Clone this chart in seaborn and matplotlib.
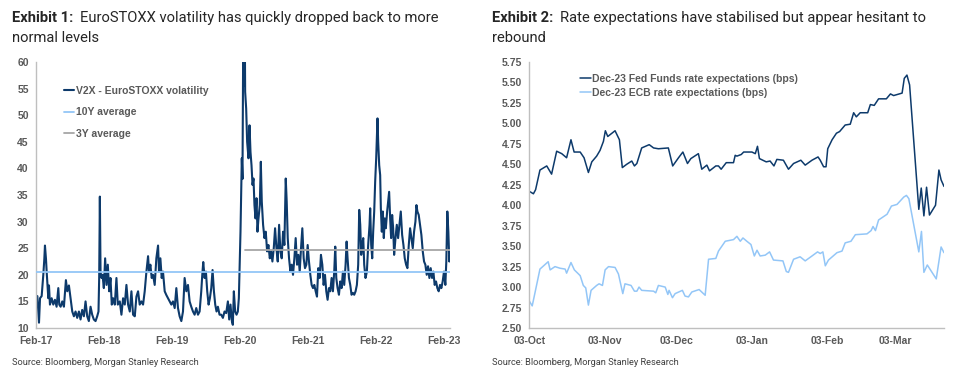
import numpy as np
import pandas as pd
import seaborn as sns
import matplotlib
matplotlib.use("Agg")
import matplotlib.pyplot as plt
import matplotlib.dates as mdates

# ---- Exhibit 1: V2X, months since Feb-2017 and index level ----
v2x_months = [
    0.00, 0.29, 0.58, 0.76, 1.05, 1.34, 1.52, 1.63, 1.81, 1.93, 2.22, 2.34, 2.51, 2.81, 3.10,
    3.39, 3.68, 3.98, 4.15, 4.39, 4.68, 4.97, 5.32, 5.56, 5.85, 6.14, 6.44, 6.73, 7.02, 7.31,
    7.61, 7.90, 8.19, 8.49, 8.78, 9.07, 9.36, 9.66, 9.95, 10.24, 10.54, 10.83, 11.06, 11.18, 11.30,
    11.42, 11.59, 11.77, 12.00, 12.23, 12.47, 12.70, 12.94, 13.17, 13.40, 13.64, 13.93, 14.22, 14.46, 14.81,
    15.10, 15.39, 15.69, 15.98, 16.27, 16.57, 16.86, 17.15, 17.45, 17.74, 18.03, 18.32, 18.62, 18.91, 19.20,
    19.50, 19.79, 19.96, 20.20, 20.43, 20.67, 20.96, 21.25, 21.55, 21.72, 21.96, 22.19, 22.42, 22.72, 23.01,
    23.30, 23.89, 24.18, 24.48, 24.77, 25.06, 25.35, 25.65, 25.94, 26.23, 26.53, 26.82, 27.11, 27.40, 27.70,
    27.99, 28.28, 28.58, 28.87, 29.16, 29.34, 29.51, 29.75, 29.98, 30.21, 30.45, 30.68, 30.92, 31.15, 31.39,
    31.62, 31.85, 32.09, 32.38, 32.68, 32.97, 33.26, 33.55, 33.85, 34.08, 34.31, 34.55, 34.72, 34.90, 35.13,
    35.37, 35.60, 35.78, 35.89, 36.07, 36.19, 36.30, 36.42, 36.54, 36.66, 36.78, 36.89, 37.07, 37.24, 37.48,
    37.66, 37.83, 38.01, 38.19, 38.36, 38.53, 38.71, 38.89, 39.06, 39.24, 39.47, 39.65, 39.82, 40.05, 40.29,
    40.52, 40.76, 40.99, 41.23, 41.46, 41.69, 41.93, 42.16, 42.40, 42.63, 42.87, 43.10, 43.33, 43.57, 43.80,
    44.04, 44.21, 44.39, 44.62, 44.86, 45.09, 45.32, 45.56, 45.79, 46.03, 46.26, 46.50, 46.73, 46.96, 47.20,
    47.43, 47.67, 47.90, 48.13, 48.37, 48.60, 48.84, 49.07, 49.31, 49.54, 49.77, 50.01, 50.24, 50.48, 50.71,
    50.95, 51.18, 51.41, 51.65, 51.88, 52.12, 52.35, 52.58, 52.76, 52.94, 53.17, 53.41, 53.64, 53.88, 54.11,
    54.34, 54.58, 54.76, 54.93, 55.17, 55.40, 55.63, 55.87, 56.10, 56.34, 56.57, 56.80, 56.98, 57.16, 57.33,
    57.51, 57.69, 57.86, 58.09, 58.33, 58.56, 58.80, 58.91, 59.09, 59.27, 59.44, 59.62, 59.79, 59.97, 60.09,
    60.20, 60.32, 60.50, 60.67, 60.79, 60.96, 61.14, 61.31, 61.49, 61.67, 61.90, 62.08, 62.25, 62.43, 62.60,
    62.78, 62.96, 63.13, 63.37, 63.60, 63.83, 64.07, 64.30, 64.54, 64.77, 65.00, 65.24, 65.47, 65.71, 65.94,
    66.18, 66.41, 66.64, 66.88, 67.06, 67.23, 67.46, 67.70, 67.93, 68.17, 68.40, 68.63, 68.87, 69.10, 69.34,
    69.57, 69.81, 70.04, 70.27, 70.51, 70.74, 70.98, 71.21, 71.45, 71.68, 71.91, 72.15, 72.32, 72.50, 72.68,
    72.85, 72.97,
]
v2x_level = [
    16.0, 16.0, 11.0, 15.6, 16.0, 20.0, 23.0, 25.5, 23.0, 20.6, 15.6, 18.0, 14.4, 15.6, 14.4,
    15.3, 14.0, 17.5, 14.4, 14.0, 15.0, 14.0, 19.0, 16.9, 18.0, 15.6, 13.1, 12.2, 13.1, 11.9,
    13.1, 11.6, 13.4, 12.2, 15.0, 12.2, 11.3, 14.0, 12.5, 11.6, 11.3, 12.2, 13.1, 19.4, 34.7,
    20.6, 19.4, 20.0, 17.5, 23.1, 18.1, 21.9, 16.9, 19.4, 14.4, 15.6, 14.4, 19.4, 14.4, 15.0,
    12.5, 15.6, 14.4, 18.1, 14.4, 13.1, 16.9, 12.5, 12.2, 15.9, 16.9, 14.4, 15.0, 14.4, 16.9,
    20.6, 23.5, 20.6, 21.9, 19.4, 20.0, 18.1, 23.1, 25.5, 20.6, 23.1, 19.4, 20.6, 16.9, 16.2,
    15.6, 14.4, 15.0, 13.75, 17.5, 13.75, 12.2, 11.3, 13.1, 19.4, 16.9, 18.1, 15.0, 14.0, 13.1,
    12.5, 13.75, 12.5, 13.1, 16.9, 20.0, 22.4, 19.4, 20.6, 16.9, 14.4, 15.6, 17.5, 20.9, 16.9,
    14.4, 13.1, 14.0, 12.5, 12.5, 11.9, 13.1, 12.8, 15.0, 11.6, 14.4, 11.3, 10.6, 16.9, 13.1,
    12.5, 13.1, 15.6, 20.6, 28.1, 35.6, 41.9, 38.0, 62.0, 55.6, 75.0, 54.4, 51.25, 45.0, 41.9,
    48.1, 43.1, 40.6, 36.9, 38.1, 33.1, 30.6, 34.4, 28.1, 30.6, 33.1, 41.25, 33.75, 29.4, 26.9,
    28.1, 24.4, 25.6, 23.1, 24.4, 22.5, 25.0, 28.75, 25.0, 22.5, 29.4, 24.4, 23.1, 28.1, 25.6,
    38.1, 33.75, 26.9, 23.1, 20.6, 21.9, 20.0, 23.1, 26.9, 21.9, 23.75, 20.6, 25.0, 28.75, 23.1,
    21.25, 21.9, 25.6, 22.5, 20.0, 18.1, 17.5, 18.1, 16.9, 15.9, 21.25, 19.4, 23.75, 21.9, 18.1,
    20.0, 16.9, 15.3, 17.5, 16.9, 19.4, 16.9, 20.6, 25.3, 19.4, 17.5, 16.25, 18.75, 17.5, 20.6,
    18.1, 21.9, 26.25, 23.1, 19.4, 18.1, 16.25, 16.6, 16.25, 16.9, 18.1, 21.9, 32.2, 29.4, 23.75,
    25.6, 26.9, 21.9, 19.4, 20.6, 25.6, 29.4, 32.5, 25.6, 23.1, 28.1, 31.9, 37.5, 41.9, 45.6,
    49.4, 45.0, 40.6, 38.75, 32.5, 28.1, 31.9, 26.9, 30.6, 28.75, 31.9, 33.75, 35.6, 30.6, 26.9,
    31.25, 28.75, 23.75, 26.9, 29.4, 26.9, 29.4, 31.9, 27.5, 25.6, 23.1, 21.9, 21.25, 25.6, 28.75,
    26.9, 25.0, 28.1, 30.0, 33.1, 31.9, 31.25, 29.4, 27.5, 24.4, 22.5, 21.9, 20.0, 21.6, 19.4,
    21.25, 19.4, 20.6, 18.1, 18.75, 17.5, 16.9, 18.1, 17.5, 18.75, 20.6, 18.1, 22.5, 31.9, 28.1,
    22.5, 23.75,
]
avg_10y = 20.6
avg_3y = 24.7
avg_3y_start_month = 36.9

# ---- Exhibit 2: Dec-23 rate expectations, days since 03-Oct-2022 ----
fed_days = [
    0.0, 1.7, 2.6, 4.4, 7.2, 9.2, 11.3, 13.4, 15.4, 17.2, 18.5, 21.0, 22.6, 24.4, 25.8,
    27.8, 29.2, 30.6, 31.4, 32.4, 35.4, 37.2, 38.4, 40.2, 42.3, 43.4, 44.4, 46.4, 49.5, 51.3,
    53.3, 57.4, 59.2, 61.6, 63.4, 65.3, 66.7, 69.8, 71.2, 73.3, 74.4, 77.0, 78.1, 79.2, 81.3,
    84.3, 85.0, 85.7, 87.5, 88.5, 91.9, 93.3, 94.2, 95.0, 97.8, 99.4, 101.0, 102.2, 104.9, 107.0,
    109.1, 112.1, 113.9, 116.7, 119.2, 120.1, 121.5, 122.5, 123.2, 125.0, 126.8, 128.1, 130.4, 132.5, 133.9,
    135.0, 136.6, 139.7, 140.8, 142.4, 144.2, 147.4, 149.1, 150.4, 153.9, 154.8, 155.9, 157.0, 160.8, 161.8,
    162.9, 164.0, 165.2, 167.7, 169.1, 170.0, 171.2,
]
fed_vals = [
    4.17, 4.14, 4.19, 4.43, 4.48, 4.38, 4.66, 4.63, 4.58, 4.80, 4.65, 4.65, 4.58, 4.40, 4.53,
    4.60, 4.67, 4.78, 4.91, 4.84, 4.91, 4.80, 4.46, 4.50, 4.54, 4.48, 4.51, 4.70, 4.74, 4.70,
    4.69, 4.70, 4.48, 4.58, 4.65, 4.51, 4.57, 4.63, 4.44, 4.49, 4.42, 4.48, 4.48, 4.44, 4.52,
    4.52, 4.61, 4.60, 4.62, 4.65, 4.65, 4.63, 4.72, 4.57, 4.53, 4.54, 4.48, 4.56, 4.55, 4.44,
    4.51, 4.55, 4.49, 4.55, 4.59, 4.55, 4.47, 4.47, 4.69, 4.80, 4.88, 4.90, 4.98, 4.99, 5.13,
    5.08, 5.13, 5.13, 5.23, 5.22, 5.30, 5.30, 5.36, 5.34, 5.37, 5.55, 5.59, 5.47, 3.95, 4.21,
    3.87, 4.22, 3.88, 4.00, 4.43, 4.31, 4.23,
]
ecb_days = [
    0.0, 1.2, 2.2, 4.4, 7.8, 8.6, 10.6, 12.7, 14.8, 15.4, 17.2, 18.6, 21.0, 22.3, 23.3,
    24.4, 25.5, 27.8, 28.8, 30.2, 31.3, 32.7, 35.4, 36.8, 38.6, 39.5, 42.0, 43.4, 44.4, 45.3,
    46.4, 51.3, 52.2, 53.3, 56.1, 57.2, 57.7, 59.1, 60.2, 63.2, 64.3, 65.7, 67.1, 70.1, 72.6,
    74.0, 77.0, 78.1, 80.9, 84.3, 85.7, 87.1, 88.2, 89.8, 91.5, 92.9, 94.0, 95.3, 97.4, 99.2,
    100.8, 104.7, 106.1, 107.0, 109.1, 111.8, 113.9, 116.7, 119.0, 120.1, 121.2, 122.2, 123.5, 127.0, 129.1,
    130.4, 132.8, 134.6, 139.4, 141.1, 141.9, 142.9, 144.2, 147.7, 149.5, 151.8, 154.6, 155.7, 156.7, 160.8,
    161.9, 162.9, 164.3, 168.0, 170.0, 171.2,
]
ecb_vals = [
    2.83, 2.77, 2.91, 3.22, 3.31, 3.21, 3.25, 3.23, 3.22, 3.17, 3.30, 3.21, 3.14, 3.02, 2.99,
    2.78, 2.96, 3.02, 3.04, 3.02, 3.21, 3.25, 3.24, 3.16, 2.92, 3.04, 3.02, 2.95, 2.95, 3.00,
    2.96, 2.95, 2.93, 3.02, 3.00, 2.91, 2.96, 2.87, 2.92, 2.96, 2.89, 2.88, 2.94, 2.97, 2.90,
    3.34, 3.35, 3.44, 3.56, 3.58, 3.62, 3.56, 3.60, 3.56, 3.52, 3.38, 3.45, 3.38, 3.39, 3.43,
    3.33, 3.32, 3.19, 3.18, 3.34, 3.37, 3.32, 3.38, 3.43, 3.41, 3.43, 3.26, 3.33, 3.42, 3.44,
    3.54, 3.56, 3.64, 3.65, 3.69, 3.74, 3.69, 3.82, 3.89, 3.99, 4.01, 4.10, 4.12, 4.08, 3.43,
    3.68, 3.18, 3.27, 3.10, 3.49, 3.42,
]

NAVY = "#0d3a6b"
LIGHT = "#93c6f7"
GREY = "#a6a6a6"
TXT = "#595959"

sns.set_style("white")
plt.rcParams["font.family"] = ["Liberation Sans", "DejaVu Sans"]

W, H = 957, 379
fig = plt.figure(figsize=(W / 100, H / 100), dpi=100)
ax1 = fig.add_axes([35.7 / W, 1 - 328 / H, 414.3 / W, 266 / H])
ax2 = fig.add_axes([529.3 / W, 1 - 328 / H, 414.7 / W, 266 / H])

# ---- left panel ----
t0 = pd.Timestamp("2017-02-01")
v2x = pd.DataFrame({
    "date": t0 + pd.to_timedelta(np.array(v2x_months) * 30.44, unit="D"),
    "level": v2x_level,
})
sns.lineplot(data=v2x, x="date", y="level", ax=ax1, color=NAVY, lw=1.5,
             label="V2X - EuroSTOXX volatility")
d_start, d_end = v2x["date"].iloc[0], v2x["date"].iloc[-1]
d3 = t0 + pd.to_timedelta(avg_3y_start_month * 30.44, unit="D")
ax1.plot([d_start, d_end], [avg_10y, avg_10y], color=LIGHT, lw=1.3, label="10Y average", zorder=4)
ax1.plot([d3, d_end], [avg_3y, avg_3y], color=GREY, lw=1.3, label="3Y average", zorder=4)
ax1.set_xlim(d_start, d_end)
ax1.set_ylim(10, 60)
ax1.set_yticks(range(10, 61, 5))
ax1.xaxis.set_major_locator(mdates.MonthLocator(bymonth=2, bymonthday=1))
ax1.xaxis.set_major_formatter(mdates.DateFormatter("%b-%y"))
ax1.legend(loc="upper left", bbox_to_anchor=(0.045, 0.945), frameon=False,
           handlelength=1.0, handletextpad=0.15, labelspacing=1.08,
           prop={"weight": "bold", "size": 7.5}, labelcolor=TXT)

# ---- right panel ----
r0 = pd.Timestamp("2022-10-03")
fed = pd.DataFrame({"date": r0 + pd.to_timedelta(fed_days, unit="D"), "v": fed_vals})
ecb = pd.DataFrame({"date": r0 + pd.to_timedelta(ecb_days, unit="D"), "v": ecb_vals})
sns.lineplot(data=fed, x="date", y="v", ax=ax2, color=NAVY, lw=1.1,
             label="Dec-23 Fed Funds rate expectations (bps)")
sns.lineplot(data=ecb, x="date", y="v", ax=ax2, color=LIGHT, lw=1.1,
             label="Dec-23 ECB rate expectations (bps)")
ax2.set_xlim(r0, fed["date"].iloc[-1])
ax2.set_ylim(2.5, 5.75)
ax2.set_yticks(np.arange(2.5, 5.76, 0.25))
ax2.yaxis.set_major_formatter(matplotlib.ticker.FormatStrFormatter("%.2f"))
ax2.xaxis.set_major_locator(mdates.MonthLocator(bymonthday=3))
ax2.xaxis.set_major_formatter(mdates.DateFormatter("%d-%b"))
ax2.legend(loc="upper left", bbox_to_anchor=(0.1, 0.99), frameon=False,
           handlelength=1.0, handletextpad=0.15, labelspacing=0.35,
           prop={"weight": "bold", "size": 7.5}, labelcolor=TXT)

for ax in (ax1, ax2):
    ax.set_xlabel("")
    ax.set_ylabel("")
    for s in ("top", "right"):
        ax.spines[s].set_visible(False)
    for s in ("left", "bottom"):
        ax.spines[s].set_color("#bfbfbf")
        ax.spines[s].set_linewidth(1.0)
    ax.tick_params(axis="both", length=3, width=0.8, color="#bfbfbf", labelcolor=TXT,
                   labelsize=7.5, pad=2)
    ax.tick_params(axis="x", pad=3)
    for lab in ax.get_xticklabels() + ax.get_yticklabels():
        lab.set_fontweight("bold")

# ---- titles & sources ----
renderer = fig.canvas.get_renderer()


def title(x_px, bold, rest, line2):
    t = fig.text(x_px / W, 1 - 22 / H, bold, fontsize=10.6, weight="bold",
                 family="Roboto", color="#262626", va="baseline")
    bb = t.get_window_extent(renderer)
    fig.text((bb.x1 + 7) / W, 1 - 22 / H, rest, fontsize=10.6, family="Roboto",
             color="#262626", va="baseline")
    fig.text(x_px / W, 1 - 41.5 / H, line2, fontsize=10.6, family="Roboto",
             color="#262626", va="baseline")


title(12, "Exhibit 1:", "EuroSTOXX volatility has quickly dropped back to more", "normal levels")
title(492, "Exhibit 2:", "Rate expectations have stabilised but appear hesitant to", "rebound")
for xp in (12, 492):
    fig.text(xp / W, 1 - 365 / H, "Source: Bloomberg, Morgan Stanley Research",
             fontsize=6.7, family="Roboto", color="#404040", va="baseline")

fig.savefig("out.png", dpi=100)
